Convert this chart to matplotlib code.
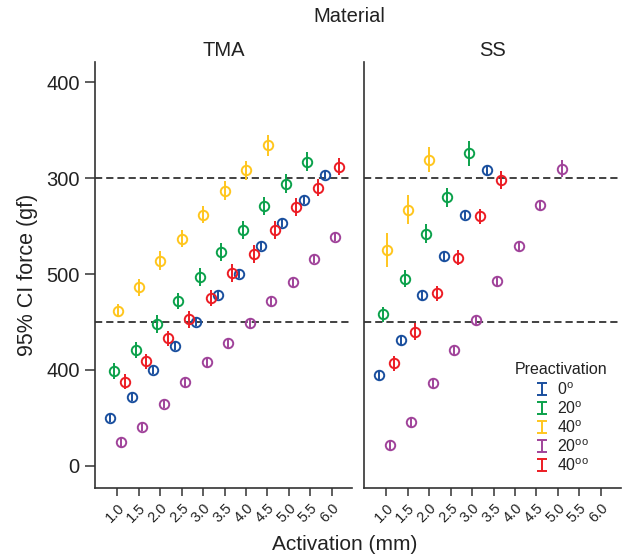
import numpy as np
import matplotlib
matplotlib.use('Agg')
import matplotlib.pyplot as plt
from matplotlib.legend_handler import HandlerErrorbar

plt.rcParams['font.family'] = ['Liberation Sans', 'DejaVu Sans']
plt.rcParams['mathtext.fontset'] = 'custom'
plt.rcParams['mathtext.rm'] = 'Liberation Sans'
plt.rcParams['mathtext.it'] = 'Liberation Sans'

"""Data"""
activation = [1.0, 1.5, 2.0, 2.5, 3.0, 3.5, 4.0, 4.5, 5.0, 5.5, 6.0]
xtick_labels = ['1.0', '1.5', '2.0', '2.5', '3.0', '3.5', '4.0', '4.5', '5.0', '5.5', '6.0']
ytick_values = [0, 100, 200, 300, 400]
ytick_labels = ['0', '400', '500', '300', '400']
ref_lines = [150, 300]

groups = ['0$^{\\mathrm{o}}$', '20$^{\\mathrm{o}}$', '40$^{\\mathrm{o}}$',
          '20$^{\\mathrm{oo}}$', '40$^{\\mathrm{oo}}$']
colors = ['#1a4f9e', '#0ba14b', '#ffc61e', '#a0439a', '#ec1c24']

# TMA panel (means, half-width of CI)
tma_0     = [50, 72, 100, 125, 150, 178, 200, 229, 253, 277, 303]
tma_0_e   = [4, 4, 4, 4, 4, 4, 4, 4, 4, 4, 4]
tma_20    = [99, 121, 148, 172, 197, 223, 246, 271, 294, 317]
tma_20_e  = [8, 8, 9, 8, 9, 9, 9, 9, 10, 10]
tma_40    = [162, 186, 214, 237, 262, 287, 308, 334]
tma_40_e  = [7, 9, 10, 9, 9, 10, 10, 11]
tma_20oo  = [25, 41, 65, 87, 108, 128, 149, 172, 192, 216, 239]
tma_20oo_e = [5, 5, 5, 5, 5, 5, 5, 5, 5, 5, 5]
tma_40oo  = [88, 109, 133, 153, 175, 201, 221, 246, 270, 290, 312]
tma_40oo_e = [8, 8, 8, 9, 8, 9, 9, 9, 9, 9, 9]

# SS panel
ss_0      = [95, 131, 178, 219, 262, 308]
ss_0_e    = [5, 5, 5, 5, 5, 5]
ss_20     = [158, 195, 242, 280, 326]
ss_20_e   = [8, 9, 10, 10, 13]
ss_40     = [225, 267, 319]
ss_40_e   = [18, 15, 13]
ss_20oo   = [22, 46, 86, 121, 152, 193, 229, 272, 310]
ss_20oo_e = [5, 5, 5, 5, 5, 5, 5, 5, 9]
ss_40oo   = [107, 140, 180, 217, 260, 298]
ss_40oo_e = [8, 9, 8, 8, 8, 9]

panels = [
    ('TMA', [tma_0, tma_20, tma_40, tma_20oo, tma_40oo],
            [tma_0_e, tma_20_e, tma_40_e, tma_20oo_e, tma_40oo_e]),
    ('SS',  [ss_0, ss_20, ss_40, ss_20oo, ss_40oo],
            [ss_0_e, ss_20_e, ss_40_e, ss_20oo_e, ss_40oo_e]),
]

dodge = [-0.16, -0.075, 0.005, 0.085, 0.175]   # position dodge per group
txt = '#222222'

"""Figure"""
W, H = 622, 560
fig = plt.figure(figsize=(W/100, H/100), dpi=100)
ax_l = fig.add_axes([95/W, 1-488/H, 257/W, 426/H])
ax_r = fig.add_axes([364/W, 1-488/H, 257/W, 426/H])

for ax, (name, means, errs) in zip([ax_l, ax_r], panels):
    for k in range(5):
        x = np.array(activation[:len(means[k])]) + dodge[k]
        ax.errorbar(x, means[k], yerr=errs[k], fmt='o', mfc='none', mec=colors[k],
                    ecolor=colors[k], ms=6.8, mew=1.4, elinewidth=1.4, capsize=0)
    for yl in ref_lines:
        ax.axhline(yl, color='#333333', lw=1.3, dashes=(4, 2.2), zorder=0)
    ax.set_xlim(0.48, 6.47)
    ax.set_ylim(-23, 421)
    ax.set_xticks(activation)
    ax.set_xticklabels(xtick_labels, rotation=45, ha='right', va='top',
                       rotation_mode='anchor', fontsize=10.5, color=txt)
    ax.spines['top'].set_visible(False)
    ax.spines['right'].set_visible(False)
    for s in ['left', 'bottom']:
        ax.spines[s].set_color('#333333')
        ax.spines[s].set_linewidth(1.2)
    ax.tick_params(axis='x', length=6, width=1.1, color='#333333', pad=3)
    ax.set_title(name, fontsize=14.5, color=txt, pad=4)

ax_l.set_yticks(ytick_values)
ax_l.set_yticklabels(ytick_labels, fontsize=14.5, color=txt)
ax_l.tick_params(axis='y', length=7, width=1.1, color='#333333', pad=4)
ax_r.tick_params(axis='y', left=False, labelleft=False)

fig.text(349/W, 1-17/H, 'Material', ha='center', va='center', fontsize=14.5, color=txt)
fig.text(28/W, 1-275/H, '95% CI force (gf)', rotation=90, ha='center', va='center',
         fontsize=15.5, color=txt)
fig.text(345/W, 1-545/H, 'Activation (mm)', ha='center', va='center', fontsize=15, color=txt)

"""Legend"""
handles = []
for k in range(5):
    h = ax_r.errorbar([np.nan], [np.nan], yerr=[1], fmt='none', ecolor=colors[k],
                      elinewidth=1.4, capsize=3.5, capthick=1.4, label=groups[k])
    handles.append(h)
fig.text(515/W, 1-370/H, 'Preactivation', ha='left', va='center', fontsize=11.5, color=txt)
leg = fig.legend(handles=handles, labels=groups, loc='upper left',
                 bbox_to_anchor=(536/W, 1-381/H), frameon=False, fontsize=11.5,
                 handlelength=0.8, handletextpad=0.5, labelspacing=0.15, borderpad=0,
                 borderaxespad=0, handler_map={type(handles[0]): HandlerErrorbar(xerr_size=0.38)})
for t in leg.get_texts():
    t.set_color(txt)

fig.savefig('out.png', dpi=100)
